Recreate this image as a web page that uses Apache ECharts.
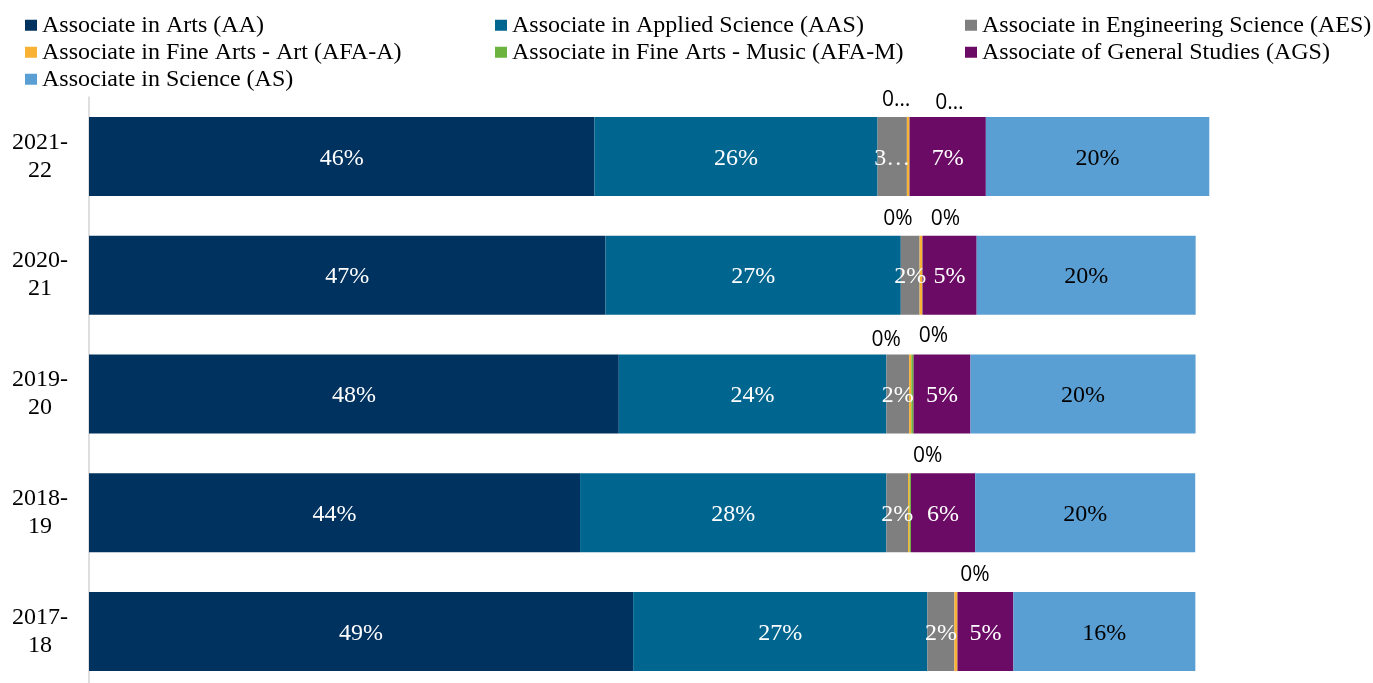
<!DOCTYPE html>
<html>
<head>
<meta charset="utf-8">
<script src="https://cdn.jsdelivr.net/npm/echarts@6/dist/echarts.min.js"></script>
<style>
  html, body { margin: 0; padding: 0; background: #fff; }
  #main { width: 1373px; height: 683px; }
</style>
</head>
<body>
<div id="main"></div>
<script>
// categories, bottom to top
var years = ['2017-18', '2018-19', '2019-20', '2020-21', '2021-22'];

// share of degrees (%)
var aa   = [49.2, 44.4, 47.9, 46.7, 45.7];
var aas  = [26.6, 27.7, 24.2, 26.7, 25.6];
var aes  = [2.45, 1.95, 2.05, 1.7, 2.65];
var afaA = [0.27, 0.14, 0.2, 0.24, 0.22];
var afaM = [null, 0.13, 0.2, 0.02, 0.02];
var ags  = [5.06, 5.8, 5.15, 4.9, 6.9];
var as   = [16.45, 19.9, 20.35, 19.8, 20.2];

// labels the original cut short
var shortText = { 'AES|2021-22': '3…', 'AFA-A|2021-22': '0…', 'AFA-M|2021-22': '0…' };

// where the small-series labels sit above the bar (offset from segment), null = none
var afaAShift = [[19, -7], [19, -7], [-24, -4], [-23, -7], [-12, -7]];
var afaMShift = [null, null, [21, -8], [23, -7], [40, -4]];

var serif = '"Liberation Serif", "Times New Roman", serif';
var sans = '"Open Sans", "Noto Sans", sans-serif';

var defs = [
  { key: 'AA', name: 'Associate in Arts (AA)', data: aa, color: '#00325f', text: '#fff' },
  { key: 'AAS', name: 'Associate in Applied Science (AAS)', data: aas, color: '#006690', text: '#fff' },
  { key: 'AES', name: 'Associate in Engineering Science (AES)', data: aes, color: '#7f7f7f', text: '#fff' },
  { key: 'AFA-A', name: 'Associate in Fine Arts - Art (AFA-A)', data: afaA, color: '#f9b233', shift: afaAShift },
  { key: 'AFA-M', name: 'Associate in Fine Arts - Music (AFA-M)', data: afaM, color: '#6db33f', shift: afaMShift },
  { key: 'AGS', name: 'Associate of General Studies (AGS)', data: ags, color: '#6b0b65', text: '#fff' },
  { key: 'AS', name: 'Associate in Science (AS)', data: as, color: '#5a9fd4', text: '#000' }
];

function labelText(key, i, v) {
  return shortText[key + '|' + years[i]] || Math.round(v) + '%';
}

var series = defs.map(function (d) {
  var items = d.data.map(function (v, i) {
    if (v == null) return null;
    var item = { value: v };
    if (d.shift) {
      var s = d.shift[i];
      item.label = s ? {
        show: true, position: 'top', distance: 0, offset: s,
        color: '#000', fontFamily: sans, fontSize: 21, lineHeight: 20,
        formatter: labelText(d.key, i, v)
      } : { show: false };
    } else {
      item.label = { formatter: labelText(d.key, i, v) };
    }
    return item;
  });
  return {
    name: d.name,
    type: 'bar',
    stack: 'total',
    barWidth: 79,
    clip: false,
    itemStyle: { color: d.color },
    label: {
      show: !d.shift,
      position: 'inside',
      offset: [0, 2],
      color: d.text,
      fontFamily: serif,
      fontSize: 24
    },
    emphasis: { disabled: true },
    data: items
  };
});

var legendBase = {
  orient: 'vertical',
  top: 12,
  padding: 0,
  icon: 'rect',
  itemWidth: 12,
  itemHeight: 11,
  itemGap: 0.5,
  itemStyle: { borderWidth: 0 },
  textStyle: { fontFamily: serif, fontSize: 24, lineHeight: 26.5, color: '#000' },
  selectedMode: false
};

var myChart = echarts.init(document.getElementById('main'));
var option = {
  animation: false,
  legend: [
    Object.assign({}, legendBase, { left: 25, data: [defs[0].name, defs[3].name, defs[6].name] }),
    Object.assign({}, legendBase, { left: 495, data: [defs[1].name, defs[4].name] }),
    Object.assign({}, legendBase, { left: 965, data: [defs[2].name, defs[5].name] })
  ],
  grid: {
    left: 89,
    top: 97,
    width: 1106,
    height: 594,
    containLabel: false,
    outerBoundsMode: 'none'
  },
  xAxis: {
    type: 'value',
    min: 0,
    max: 100,
    show: false
  },
  yAxis: {
    type: 'category',
    data: years,
    axisLine: { show: true, lineStyle: { color: '#d4d4d4', width: 1.5 } },
    axisTick: { show: false },
    axisLabel: {
      margin: 49,
      align: 'center',
      fontFamily: serif,
      fontSize: 24,
      lineHeight: 28,
      padding: [4, 0, 0, 0],
      color: '#000',
      formatter: function (v) { return v.replace('-', '-\n'); }
    }
  },
  series: series
};
myChart.setOption(option);
</script>
</body>
</html>
